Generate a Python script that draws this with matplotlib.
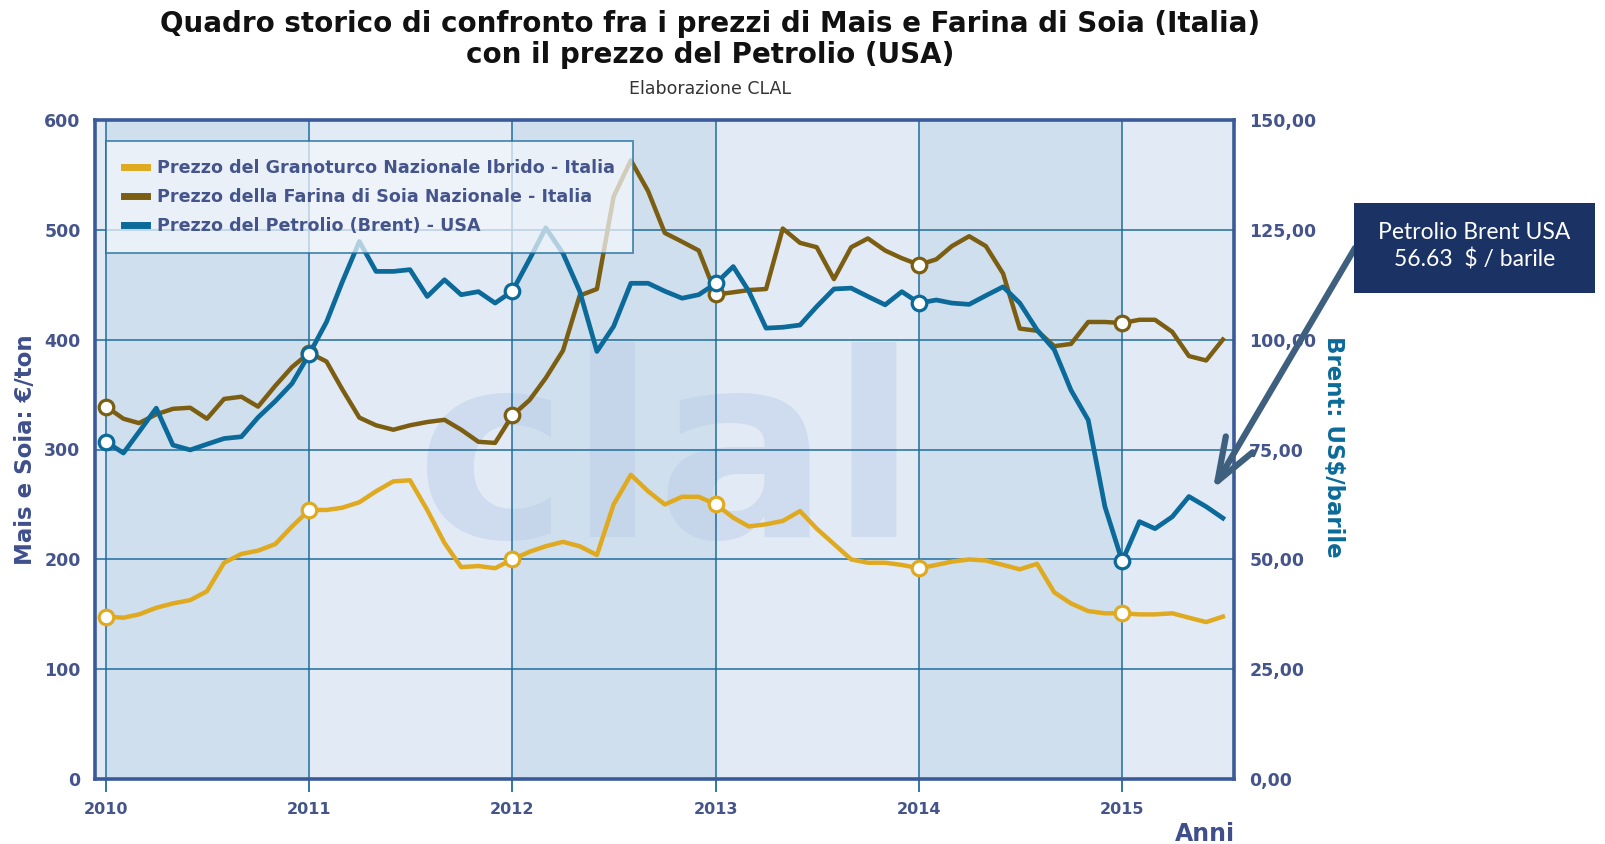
import numpy as np
import pandas as pd
import matplotlib
matplotlib.use("Agg")
import matplotlib.pyplot as plt
import matplotlib.dates as mdates
from matplotlib.lines import Line2D
from matplotlib.patches import Rectangle
from matplotlib.ticker import FuncFormatter

# mesi da gen 2010 a lug 2015
mesi = pd.date_range("2010-01-01", "2015-07-01", freq="MS")

# Prezzo del Granoturco Nazionale Ibrido (EUR/ton)
mais = [148, 147, 150, 156, 160, 163, 171, 197, 205, 208, 214, 230,
        245, 245, 247, 252, 262, 271, 272, 245, 215, 193, 194, 192,
        200, 207, 212, 216, 212, 204, 250, 277, 262, 250, 257, 257,
        250, 238, 230, 232, 235, 244, 228, 214, 200, 197, 197, 195,
        192, 195, 198, 200, 199, 195, 191, 196, 170, 160, 153, 151,
        151, 150, 150, 151, 147, 143, 148]

# Prezzo della Farina di Soia Nazionale (EUR/ton)
soia = [339, 328, 324, 332, 337, 338, 328, 346, 348, 339, 358, 375,
        388, 380, 355, 329, 322, 318, 322, 325, 327, 318, 307, 306,
        331, 345, 365, 390, 440, 446, 530, 563, 535, 497, 489, 481,
        441, 443, 445, 446, 501, 488, 484, 455, 484, 492, 481, 474,
        468, 473, 485, 494, 485, 460, 410, 408, 394, 396, 416, 416,
        415, 418, 418, 407, 385, 381, 400]

# Prezzo del Petrolio Brent (US$/barile)
brent = [76.7, 74.2, 79.0, 84.4, 76.0, 74.9, 76.2, 77.5, 77.9, 82.3, 86.0, 90.0,
         96.7, 104.0, 113.0, 122.3, 115.5, 115.5, 115.9, 109.8, 113.6, 110.2, 110.9, 108.3,
         111.0, 118.3, 125.4, 119.6, 111.0, 97.3, 103.0, 112.8, 112.8, 111.0, 109.4, 110.2,
         112.8, 116.6, 111.0, 102.6, 102.8, 103.3, 107.5, 111.5, 111.7, 109.8, 107.9, 110.9,
         108.3, 109.0, 108.3, 108.0, 110.0, 112.0, 108.3, 102.2, 97.7, 88.5, 81.7, 62.0,
         49.6, 58.6, 57.0, 59.7, 64.3, 62.0, 59.4]

etichette = ["Prezzo del Granoturco Nazionale Ibrido - Italia",
             "Prezzo della Farina di Soia Nazionale - Italia",
             "Prezzo del Petrolio (Brent) - USA"]

col_mais = "#e0aa20"
col_soia = "#7c5e12"
col_brent = "#0b6a99"
col_testo = "#45558c"
col_griglia = "#1f6d9e"

W, H = 1605, 844
fig = plt.figure(figsize=(W / 100, H / 100), dpi=100)
fig.patch.set_facecolor("white")

# area del grafico (in pixel del riferimento)
x0, x1, ytop, ybot = 94.5, 1234, 119.7, 779.3
ax = fig.add_axes([x0 / W, (H - ybot) / H, (x1 - x0) / W, (ybot - ytop) / H])
ax.set_facecolor("#e2eaf5")

# fasce annuali alternate
for anno in [2010, 2012, 2014]:
    ax.axvspan(pd.Timestamp(f"{anno}-01-01"), pd.Timestamp(f"{anno + 1}-01-01"),
               color="#cfdfed", zorder=0.2, lw=0)

# logo in filigrana
ax.text(pd.Timestamp("2012-10-05"), 285, "clal", fontsize=185, fontweight="bold",
        color="#b9cde9", alpha=0.45, ha="center", va="center", zorder=0.3)

ax.set_xlim(pd.Timestamp("2009-12-11"), pd.Timestamp("2015-07-21"))
ax.set_ylim(0, 600)
ax.set_yticks(range(0, 601, 100))
ax.xaxis.set_major_locator(mdates.YearLocator())
ax.xaxis.set_major_formatter(mdates.DateFormatter("%Y"))
ax.grid(True, color=col_griglia, lw=1.1, zorder=0.5)
ax.set_axisbelow(True)

for s in ax.spines.values():
    s.set_color("#3a5a9a")
    s.set_linewidth(2.6)

ax.tick_params(axis="y", length=0, pad=10, labelsize=12.5, labelcolor=col_testo)
ax.tick_params(axis="x", direction="out", length=9, width=1.3, color=col_griglia,
               pad=7, labelsize=11.5, labelcolor=col_testo)
for t in ax.get_xticklabels() + ax.get_yticklabels():
    t.set_fontweight("bold")

mk = dict(marker="o", markevery=12, markersize=10.5, markerfacecolor="white",
          markeredgewidth=2.3)
ax.plot(mesi, mais, color=col_mais, lw=3.2, solid_joinstyle="round",
        markeredgecolor=col_mais, zorder=3, **mk)
ax.plot(mesi, soia, color=col_soia, lw=3.2, solid_joinstyle="round",
        markeredgecolor=col_soia, zorder=3, **mk)

ax2 = ax.twinx()
ax2.set_ylim(0, 150)
ax2.set_yticks(np.arange(0, 151, 25))
ax2.yaxis.set_major_formatter(FuncFormatter(lambda v, p: f"{v:.2f}".replace(".", ",")))
ax2.tick_params(axis="y", length=0, pad=11, labelsize=12.5, labelcolor=col_testo)
for t in ax2.get_yticklabels():
    t.set_fontweight("bold")
for s in ax2.spines.values():
    s.set_visible(False)
ax2.plot(mesi, brent, color=col_brent, lw=3.4, solid_joinstyle="round",
         markeredgecolor=col_brent, zorder=4, **mk)

# legenda
maniglie = [Line2D([], [], color=c, lw=5) for c in [col_mais, col_soia, col_brent]]
leg = ax2.legend(maniglie, etichette, loc="upper left",
                 bbox_to_anchor=((106 - x0) / (x1 - x0), (ybot - 141) / (ybot - ytop)),
                 borderaxespad=0, fancybox=False, framealpha=0.72,
                 facecolor="#f4f7fc", edgecolor=col_griglia,
                 prop=dict(size=12.6, weight="bold"), labelcolor=col_testo,
                 handlelength=1.3, handletextpad=0.55, labelspacing=0.62,
                 borderpad=1.05)
leg.get_frame().set_linewidth(1.4)
leg.set_zorder(10)

# titoli
fig.text(710 / W, 1 - 23.5 / H, "Quadro storico di confronto fra i prezzi di Mais e Farina di Soia (Italia)",
         ha="center", va="center", fontsize=20, fontweight="bold", color="#111111")
fig.text(710 / W, 1 - 55 / H, "con il prezzo del Petrolio (USA)",
         ha="center", va="center", fontsize=20, fontweight="bold", color="#111111")
fig.text(710 / W, 1 - 89 / H, "Elaborazione CLAL", ha="center", va="center",
         fontsize=12.5, color="#333333")

fig.text(26 / W, 1 - 450 / H, "Mais e Soia: €/ton", rotation=90, ha="center",
         va="center", fontsize=16.5, fontweight="bold", color="#3f4f8c")
fig.text(1334 / W, 1 - 447 / H, "Brent: US$/barile", rotation=270, ha="center",
         va="center", fontsize=16.5, fontweight="bold", color=col_brent)
fig.text(1205 / W, 1 - 834 / H, "Anni", ha="center", va="center",
         fontsize=17, fontweight="bold", color="#3f4f8c")

# riquadro con il valore del Brent
fig.patches.append(Rectangle((1354 / W, (H - 293) / H), 241 / W, 90 / H,
                             transform=fig.transFigure, facecolor="#1b3264",
                             edgecolor="none", zorder=5))
fig.text(1474.5 / W, 1 - 246 / H, "Petrolio Brent USA\n56.63  $ / barile",
         ha="center", va="center", fontsize=16.5, color="white", family="Lato",
         linespacing=1.3, zorder=6)

ax2.annotate("", xy=(pd.Timestamp("2015-06-13"), 66.0),
             xytext=(1355 / W, 1 - 248 / H), textcoords="figure fraction",
             arrowprops=dict(arrowstyle="->,head_length=1.1,head_width=0.4",
                             lw=4.5, color="#3f5f7e", shrinkA=0, shrinkB=0,
                             mutation_scale=28),
             annotation_clip=False, zorder=7)

fig.savefig("out.png", dpi=100)
